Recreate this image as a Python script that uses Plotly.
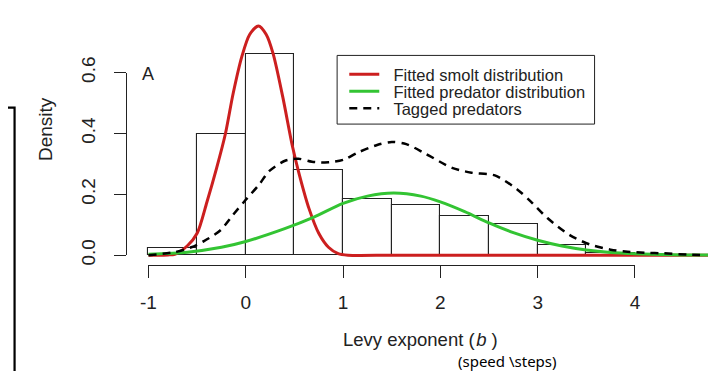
import plotly.graph_objects as go

# ---- data -------------------------------------------------------------
# histogram of Levy exponents (density scale, bin width 0.5)
bin_centers = [-0.75, -0.25, 0.25, 0.75, 1.25, 1.75, 2.25, 2.75, 3.25, 3.75]
bin_density = [0.023, 0.398, 0.660, 0.280, 0.185, 0.164, 0.130, 0.101, 0.034, 0.006]
bin_width = 0.5

# fitted smolt distribution
smolt_x = [-1.0, -0.9, -0.8, -0.73, -0.6, -0.5, -0.4, -0.3, -0.21, -0.13, -0.04,
           0.04, 0.13, 0.21, 0.28, 0.38, 0.48, 0.55, 0.65, 0.75, 0.85, 0.95,
           1.05, 1.5, 2.5, 3.5, 4.5, 4.95]
smolt_y = [0.0, 0.0, 0.001, 0.003, 0.031, 0.072, 0.174, 0.286, 0.398, 0.531, 0.653,
           0.725, 0.753, 0.725, 0.663, 0.520, 0.357, 0.265, 0.153, 0.072, 0.026, 0.005,
           0.0, 0.0, 0.0, 0.0, 0.0, 0.0]

# fitted predator distribution
pred_x = [-1.0, -0.6, -0.25, 0.0, 0.4, 0.7, 1.0, 1.25, 1.52, 1.8, 2.0, 2.25, 2.5,
          2.75, 3.0, 3.25, 3.5, 3.75, 4.0, 4.5, 5.0, 5.4]
pred_y = [0.003, 0.010, 0.026, 0.045, 0.087, 0.125, 0.170, 0.194, 0.204, 0.194, 0.175,
          0.143, 0.106, 0.074, 0.049, 0.030, 0.017, 0.009, 0.005, 0.001, 0.0, 0.0]

# density of tagged predators
tag_x = [-1.0, -0.73, -0.56, -0.43, -0.26, -0.13, 0.0, 0.14, 0.24, 0.41, 0.54, 0.68,
         0.85, 1.01, 1.15, 1.35, 1.50, 1.65, 1.85, 2.12, 2.32, 2.56, 2.79, 2.93,
         3.10, 3.33, 3.53, 3.75, 3.90, 4.10, 4.30, 4.53, 4.70]
tag_y = [0.0, 0.010, 0.026, 0.046, 0.082, 0.133, 0.182, 0.233, 0.276, 0.311, 0.317, 0.307,
         0.305, 0.314, 0.337, 0.362, 0.372, 0.365, 0.333, 0.287, 0.271, 0.262, 0.216, 0.176,
         0.122, 0.066, 0.036, 0.018, 0.012, 0.008, 0.006, 0.002, 0.0]

x_ticks = [-1, 0, 1, 2, 3, 4]
x_tick_text = ["-1", "0", "1", "2", "3", "4"]
y_ticks = [0.0, 0.2, 0.4, 0.6]
y_tick_text = ["0.0", "0.2", "0.4", "0.6"]

# ---- geometry (pixels) ------------------------------------------------
W, H = 714, 381
X_AT_M1, X_AT_4 = 143.3, 639.5      # pixel columns of x=-1 and x=4
Y_AT_0, Y_AT_06 = 256.7, 60.7       # pixel rows of y=0 and y=0.6
X_AXIS_ROW = 267.7                  # row of the x axis line
Y_AXIS_COL = 120.7                  # column of the y axis line

ppx = (X_AT_4 - X_AT_M1) / 5.0
ppy = (Y_AT_0 - Y_AT_06) / 0.6
x_range = [-1 - X_AT_M1 / ppx, -1 + (W - X_AT_M1) / ppx]
y_range = [-(H - Y_AT_0) / ppy, Y_AT_0 / ppy]


def px(xp):
    return xp / W


def py(yp):
    return 1 - yp / H


FONT = "Liberation Sans, Arial, sans-serif"
INK = "#222222"
RED = "#cc1f1f"
GREEN = "#33c433"
PAD = "\u00a0\u00a0"   # small gap between legend sample and label

fig = go.Figure()

fig.add_trace(go.Bar(
    x=bin_centers, y=bin_density, width=bin_width,
    marker=dict(color="white", line=dict(color=INK, width=1.1)),
    showlegend=False, hoverinfo="skip",
))
fig.add_trace(go.Scatter(
    x=smolt_x, y=smolt_y, mode="lines", name=PAD + "Fitted smolt distribution",
    line=dict(color=RED, width=3, shape="spline", smoothing=0.8), legend="legend",
))
fig.add_trace(go.Scatter(
    x=pred_x, y=pred_y, mode="lines", name=PAD + "Fitted predator distribution",
    line=dict(color=GREEN, width=3, shape="spline", smoothing=0.8), legend="legend2",
))
fig.add_trace(go.Scatter(
    x=tag_x, y=tag_y, mode="lines", name=PAD + "Tagged predators",
    line=dict(color="black", width=2.5, dash="8px,6px", shape="spline", smoothing=0.8),
    legend="legend3",
))
# carrier for the R-style offset axes
fig.add_trace(go.Scatter(x=[None], y=[None], xaxis="x2", yaxis="y2",
                         showlegend=False, hoverinfo="skip"))


def legend_row(yc):
    return dict(
        x=px(343), y=py(yc), xanchor="left", yanchor="middle",
        bgcolor="rgba(0,0,0,0)", borderwidth=0,
        font=dict(size=16.5, family=FONT, color=INK), itemwidth=30,
    )


fig.update_layout(
    width=W, height=H,
    margin=dict(l=0, r=0, t=0, b=0),
    paper_bgcolor="white", plot_bgcolor="rgba(0,0,0,0)",
    font=dict(family=FONT, color=INK),
    bargap=0,
    xaxis=dict(range=x_range, visible=False, fixedrange=True),
    yaxis=dict(range=y_range, visible=False, fixedrange=True),
    xaxis2=dict(
        domain=[px(X_AT_M1), px(X_AT_4)], range=[-1, 4], anchor="free",
        position=py(X_AXIS_ROW), showline=True, linecolor=INK, linewidth=1,
        ticks="outside", ticklen=12, tickwidth=1, tickcolor=INK,
        tickvals=x_ticks, ticktext=x_tick_text, ticklabelstandoff=8,
        tickfont=dict(size=19), showgrid=False, zeroline=False,
    ),
    yaxis2=dict(
        domain=[py(Y_AT_0), py(Y_AT_06)], range=[0, 0.6], anchor="free",
        position=px(Y_AXIS_COL), showline=True, linecolor=INK, linewidth=1,
        ticks="outside", ticklen=12, tickwidth=1, tickcolor=INK,
        tickvals=y_ticks, ticktext=y_tick_text, tickangle=-90, ticklabelstandoff=12,
        tickfont=dict(size=19), showgrid=False, zeroline=False,
    ),
    legend=legend_row(62.7),
    legend2=legend_row(81.0),
    legend3=legend_row(99.3),
    shapes=[
        # legend frame
        dict(type="rect", xref="paper", yref="paper",
             x0=px(335.7), x1=px(598.3), y0=py(116), y1=py(42.3),
             line=dict(color=INK, width=1), fillcolor="white", layer="below"),
        # bracket line on the left edge
        dict(type="path", xref="paper", yref="paper",
             path=f"M 0 {py(98.3)} L {px(6.7)} {py(98.3)} L {px(6.7)} 0",
             line=dict(color="black", width=2.2)),
    ],
    annotations=[
        dict(text="Density", xref="paper", yref="paper", x=px(38), y=py(121),
             xanchor="center", yanchor="middle",
             textangle=-90, showarrow=False, font=dict(size=19)),
        dict(text="Levy exponent (\u200a<i>b</i> )", xref="paper", yref="paper",
             x=px(421), y=py(347.5), xanchor="center", yanchor="middle",
             showarrow=False, font=dict(size=18.5)),
        dict(text="(speed \\steps)", xref="paper", yref="paper",
             x=px(509), y=py(370.5), xanchor="center", yanchor="middle",
             showarrow=False,
             font=dict(size=15, family="Noto Sans, Open Sans, sans-serif", color="black")),
        dict(text="A", xref="paper", yref="paper", x=px(143), y=py(62),
             xanchor="center", yanchor="middle",
             showarrow=False, font=dict(size=18)),
    ],
)

fig.write_html("out.html")
